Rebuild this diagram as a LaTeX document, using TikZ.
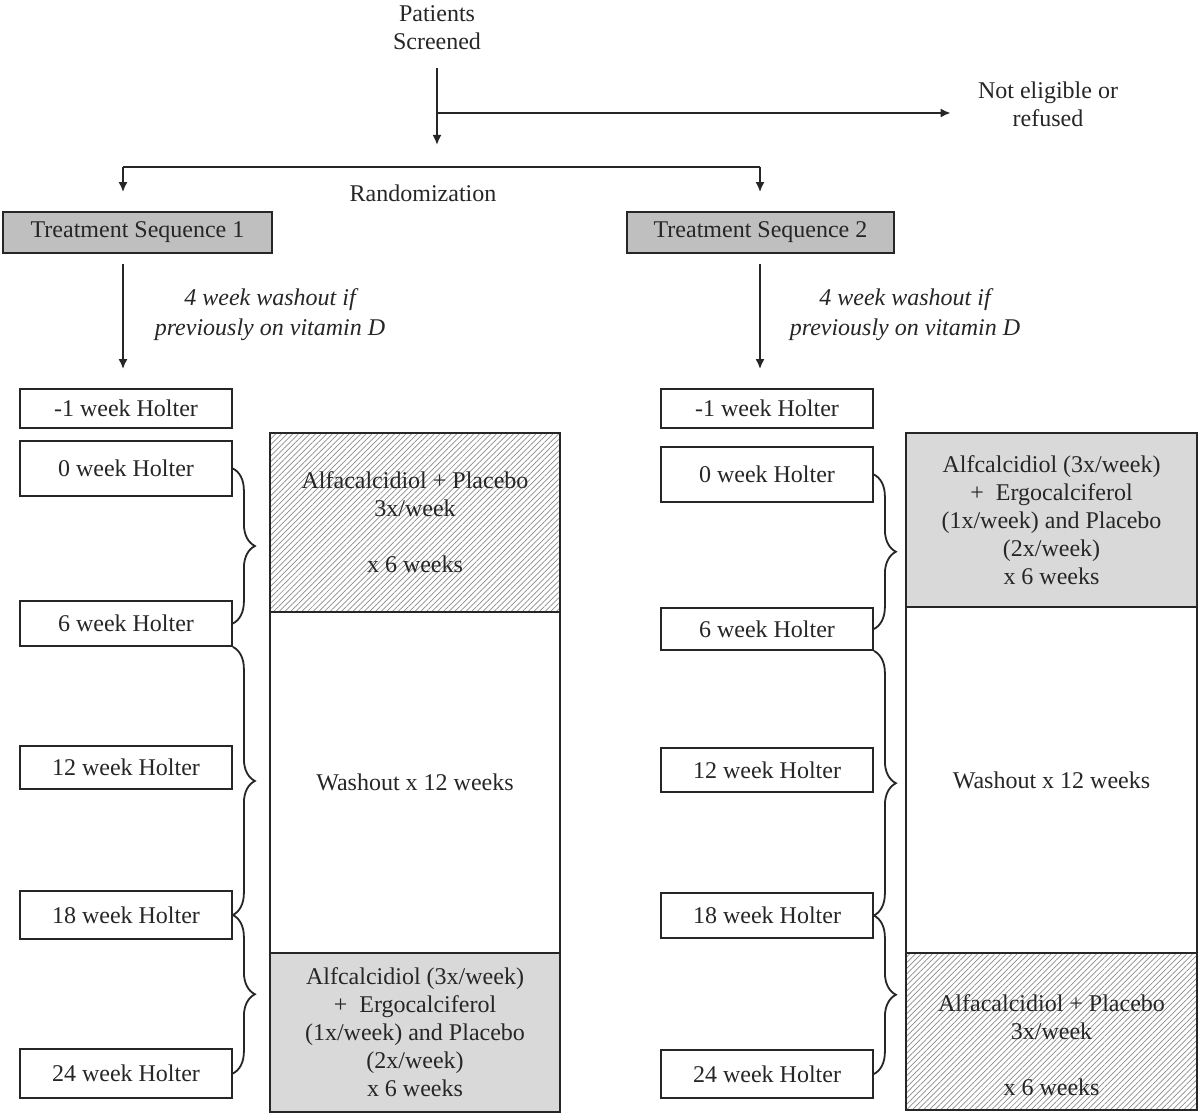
\documentclass[tikz,border=0pt]{standalone}
\usepackage{fontspec}
\setmainfont{Liberation Serif}
\usetikzlibrary{arrows.meta,decorations.pathreplacing,patterns.meta}
\begin{document}
\begin{tikzpicture}[x=0.5pt,y=-0.5pt,
  every node/.style={font=\fontsize{12}{14}\selectfont, text=black!85},
  ln/.style={draw=black!85, line width=0.9pt},
  arr/.style={ln, -{Latex[length=5pt,width=4.5pt]}},
  hbox/.style={draw=black!85, line width=0.9pt, minimum width=106pt, inner sep=0pt, fill=white},
  tsbox/.style={draw=black!85, line width=0.9pt, fill=black!25, minimum height=20.5pt, inner sep=0pt},
  seg/.style={draw=black!85, line width=0.9pt, inner sep=0pt, align=center},
  hatch/.style={pattern={Lines[angle=45,distance=2pt,line width=0.35pt]}, pattern color=black!45},
  grayfill/.style={fill=black!15},
  txt/.style={align=center, inner sep=0pt},
  itxt/.style={align=center, inner sep=0pt, font=\fontsize{12}{15}\selectfont\itshape},
  brc/.style={ln, decorate, decoration={brace, amplitude=11pt}},
]
\path[fill=white] (0,0) rectangle (1200,1117);
\useasboundingbox (0,0) rectangle (1200,1117);

% top
\node[txt] (ps) at (437,28) {Patients\\Screened};
\node[txt] (ne) at (1048,104) {Not eligible or\\refused};
\node[txt] (rand) at (423,193) {Randomization};
\coordinate (split) at (437,113);
\coordinate (rc) at (437,167);
\coordinate (rl) at (123,167);
\coordinate (rr) at (760,167);

\node[tsbox, minimum width=134.5pt] (ts1) at (137.5,232.5) {Treatment Sequence 1};
\node[tsbox, minimum width=133.5pt] (ts2) at (760.5,232.5) {Treatment Sequence 2};

\draw[arr, shorten <=9pt, shorten >=11pt] (ps.south) -- (rc);
\draw[arr, shorten >=13.5pt] (split) -- (split -| ne.west);
\draw[ln] (rl) -- (rr);
\draw[arr, shorten >=9.5pt] (rl) -- (rl |- ts1.north);
\draw[arr, shorten >=9.5pt] (rr) -- (rr |- ts2.north);

\node[itxt] (wl) at (270,315) {4 week washout if\\previously on vitamin D};
\node[itxt] (wr) at (905,315) {4 week washout if\\previously on vitamin D};

% left Holter boxes
\node[hbox, minimum height=19.5pt] (hm1) at (126,408.5) {-1 week Holter};
\node[hbox, minimum height=27.5pt] (h0) at (126,468.5) {0 week Holter};
\node[hbox, minimum height=22.5pt] (h6) at (126,623.5) {6 week Holter};
\node[hbox, minimum height=21.5pt] (h12) at (126,767.5) {12 week Holter};
\node[hbox, minimum height=24pt] (h18) at (126,915) {18 week Holter};
\node[hbox, minimum height=24.5pt] (h24) at (126,1073.5) {24 week Holter};

% right Holter boxes
\node[hbox, minimum height=19.5pt] (hm1r) at (767,408.5) {-1 week Holter};
\node[hbox, minimum height=27.5pt] (h0r) at (767,474.5) {0 week Holter};
\node[hbox, minimum height=21pt] (h6r) at (767,629) {6 week Holter};
\node[hbox, minimum height=22pt] (h12r) at (767,770) {12 week Holter};
\node[hbox, minimum height=22.5pt] (h18r) at (767,915.5) {18 week Holter};
\node[hbox, minimum height=24pt] (h24r) at (767,1074) {24 week Holter};

\draw[arr, shorten <=5pt, shorten >=9.5pt] (rl |- ts1.south) -- (rl |- hm1.north);
\draw[arr, shorten <=5pt, shorten >=9.5pt] (rr |- ts2.south) -- (rr |- hm1r.north);

% left column
\node[seg, hatch, minimum width=145pt, minimum height=89.5pt] (l1) at (415,522.5)
  {Alfacalcidiol + Placebo\\3x/week\\[14pt]x 6 weeks};
\node[seg, minimum width=145pt, minimum height=170.5pt] (l2) at (415,782.5)
  {Washout x 12 weeks};
\node[seg, grayfill, minimum width=145pt, minimum height=79.5pt] (l3) at (415,1032.5)
  {Alfcalcidiol (3x/week)\\+\ \ Ergocalciferol\\(1x/week) and Placebo\\(2x/week)\\x 6 weeks};

% right column
\node[seg, grayfill, minimum width=145.5pt, minimum height=87pt] (r1) at (1051.5,520)
  {Alfcalcidiol (3x/week)\\+\ \ Ergocalciferol\\(1x/week) and Placebo\\(2x/week)\\x 6 weeks};
\node[seg, minimum width=145.5pt, minimum height=173pt] (r2) at (1051.5,780)
  {Washout x 12 weeks};
\node[seg, hatch, minimum width=145.5pt, minimum height=78.5pt] (r3) at (1051.5,1031.5) {};
\node[txt] (r3t) at (1051.5,1045) {Alfacalcidiol + Placebo\\3x/week\\[14pt]x 6 weeks};

% braces
\draw[brc] (h0.east) -- (h6.east);
\draw[brc] (h6.south east) -- (h18.east);
\draw[brc] (h18.east) -- (h24.east);
\draw[brc] (h0r.east) -- (h6r.east);
\draw[brc] (h6r.south east) -- (h18r.east);
\draw[brc] (h18r.east) -- (h24r.east);
\end{tikzpicture}
\end{document}
